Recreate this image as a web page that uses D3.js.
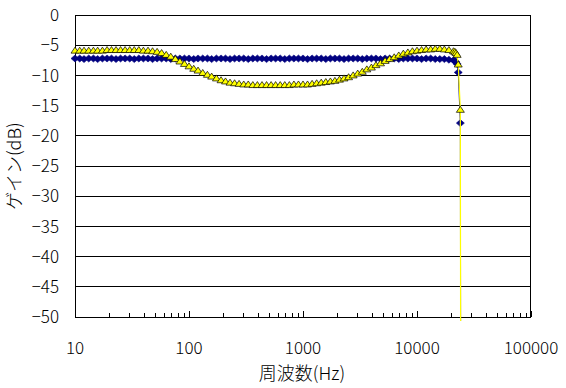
<!DOCTYPE html>
<html><head><meta charset="utf-8">
<script src="https://cdn.jsdelivr.net/npm/d3@7"></script>
<style>body{margin:0;background:#fff}svg{display:block}text{font-family:"Noto Sans CJK JP","Noto Sans",sans-serif;fill:#000;font-weight:300}</style>
</head><body>
<script>
const freqs = [10,11,12,13.2,14.5,15.8,17.4,19.1,20.9,22.9,25.1,27.5,30.2,33.1,36.3,39.8,43.7,47.9,52.5,57.5,63.1,69.2,75.9,83.2,91.2,
100,110,120,132,145,158,174,191,209,229,251,275,302,331,363,398,437,479,525,575,631,692,759,832,912,
1000,1096,1202,1318,1445,1585,1738,1905,2089,2291,2512,2754,3020,3311,3631,3981,4365,4786,5248,5754,6310,6918,7586,8318,9120,
10000,10965,12023,13183,14454,15849,17378,19055,20893,21500,22000,22500,23000,24000,24500];
const blueGain = [-7.2,-7.2,-7.3,-7.2,-7.2,-7.3,-7.2,-7.2,-7.2,-7.3,-7.2,-7.2,-7.2,-7.3,-7.2,-7.2,-7.2,-7.3,-7.2,-7.2,-7.2,-7.3,-7.2,-7.2,-7.2,
-7.2,-7.3,-7.2,-7.2,-7.2,-7.3,-7.2,-7.2,-7.2,-7.3,-7.2,-7.2,-7.2,-7.3,-7.2,-7.2,-7.2,-7.3,-7.2,-7.2,-7.2,-7.3,-7.2,-7.2,-7.2,
-7.2,-7.3,-7.2,-7.2,-7.2,-7.3,-7.2,-7.2,-7.2,-7.3,-7.2,-7.2,-7.2,-7.3,-7.2,-7.2,-7.2,-7.3,-7.2,-7.2,-7.2,-7.3,-7.2,-7.2,-7.2,
-7.2,-7.3,-7.2,-7.2,-7.3,-7.3,-7.3,-7.4,-7.5,-7.6,-7.8,-8.1,-9.5,-17.9,-150];
const yellowGain = [-5.9,-5.9,-5.9,-5.9,-5.9,-5.9,-5.9,-5.8,-5.8,-5.8,-5.8,-5.8,-5.8,-5.8,-5.8,-5.9,-5.9,-6.0,-6.1,-6.3,-6.6,-6.9,-7.3,-7.7,-8.1,
-8.5,-8.9,-9.2,-9.6,-9.9,-10.2,-10.5,-10.8,-11.0,-11.2,-11.3,-11.4,-11.5,-11.5,-11.6,-11.6,-11.6,-11.6,-11.6,-11.6,-11.6,-11.6,-11.6,-11.5,-11.5,
-11.5,-11.5,-11.4,-11.3,-11.2,-11.1,-11.0,-10.9,-10.7,-10.5,-10.3,-10.0,-9.7,-9.4,-9.0,-8.7,-8.3,-8.0,-7.6,-7.3,-7.0,-6.7,-6.4,-6.2,-6.0,
-5.9,-5.8,-5.7,-5.7,-5.6,-5.6,-5.7,-5.8,-6.0,-6.1,-6.3,-6.6,-8.2,-15.7,-150];
const xTicks = [10,100,1000,10000,100000];
const yTicks = [0,-5,-10,-15,-20,-25,-30,-35,-40,-45,-50];
const xTitle = "周波数(Hz)";
const yTitle = "ゲイン(dB)";

const W = 566, H = 388;
const L = 75, R = 531, T = 15, B = 317;
const svg = d3.select("body").append("svg").attr("width", W).attr("height", H);
const x = d3.scaleLog().domain([10, 100000]).range([L, R]);
const y = d3.scaleLinear().domain([-50, 0]).range([B, T]);

svg.append("g").selectAll("line").data(yTicks.filter(v => v !== 0 && v !== -50)).join("line")
  .attr("x1", L).attr("x2", R).attr("y1", d => y(d)).attr("y2", d => y(d))
  .attr("stroke", "#000").attr("stroke-width", 1).attr("shape-rendering", "crispEdges");

const allTicks = [];
for (let dec = 10; dec < 100000; dec *= 10) for (let m = 1; m <= 9; m++) allTicks.push(dec * m);
allTicks.push(100000);
svg.append("g").selectAll("line").data(allTicks).join("line")
  .attr("x1", d => Math.round(x(d)) + 0.5).attr("x2", d => Math.round(x(d)) + 0.5)
  .attr("y1", B).attr("y2", d => B - (xTicks.includes(d) ? 6 : 4))
  .attr("stroke", "#000").attr("stroke-width", 1);

svg.append("rect").attr("x", L + 0.5).attr("y", T + 0.5).attr("width", R - L - 1).attr("height", B - T)
  .attr("fill", "none").attr("stroke", "#000").attr("stroke-width", 1);

svg.append("g").selectAll("text").data(xTicks).join("text")
  .attr("x", d => x(d)).attr("y", 354).attr("text-anchor", "middle").attr("font-size", 17)
  .text(d => d);
svg.append("g").selectAll("text").data(yTicks).join("text")
  .attr("x", 59).attr("y", d => y(d)).attr("dy", "0.36em").attr("text-anchor", "end").attr("font-size", 17)
  .text(d => d === 0 ? "0" : "\u2212" + Math.abs(d));
svg.append("text").attr("x", 302).attr("y", 380).attr("text-anchor", "middle").attr("font-size", 18).text(xTitle);
svg.append("text").attr("transform", `translate(21,${(T + B) / 2}) rotate(-90)`).attr("text-anchor", "middle").attr("font-size", 18).text(yTitle);

svg.append("clipPath").attr("id", "clip").append("rect").attr("x", 0).attr("y", 0).attr("width", W).attr("height", B + 4);

const ser = (vals) => freqs.map((f, i) => ({f, v: vals[i]}));
const line = d3.line().x(d => x(d.f)).y(d => y(d.v));
const blue = ser(blueGain), yel = ser(yellowGain);

const g = svg.append("g").attr("clip-path", "url(#clip)");
g.append("path").datum(blue).attr("d", line).attr("fill", "none").attr("stroke", "#000080").attr("stroke-width", 1);
g.selectAll(".dm").data(blue.filter(d => d.v >= -50)).join("path").attr("class", "dm")
  .attr("transform", d => `translate(${x(d.f)},${y(d.v)})`)
  .attr("d", "M0,-3.5L4,0L0,3.5L-4,0Z").attr("fill", "#000080").attr("stroke", "#000080").attr("stroke-width", 0.6);
g.append("path").datum(yel).attr("d", line).attr("fill", "none").attr("stroke", "#FFFF00").attr("stroke-width", 1.2);
g.selectAll(".tr").data(yel.filter(d => d.v >= -50)).join("path").attr("class", "tr")
  .attr("transform", d => `translate(${x(d.f)},${y(d.v)})`)
  .attr("d", "M0,-3.5L4,2.5L-4,2.5Z").attr("fill", "#FFFF00").attr("stroke", "#000").attr("stroke-width", 0.7);
</script>
</body></html>
